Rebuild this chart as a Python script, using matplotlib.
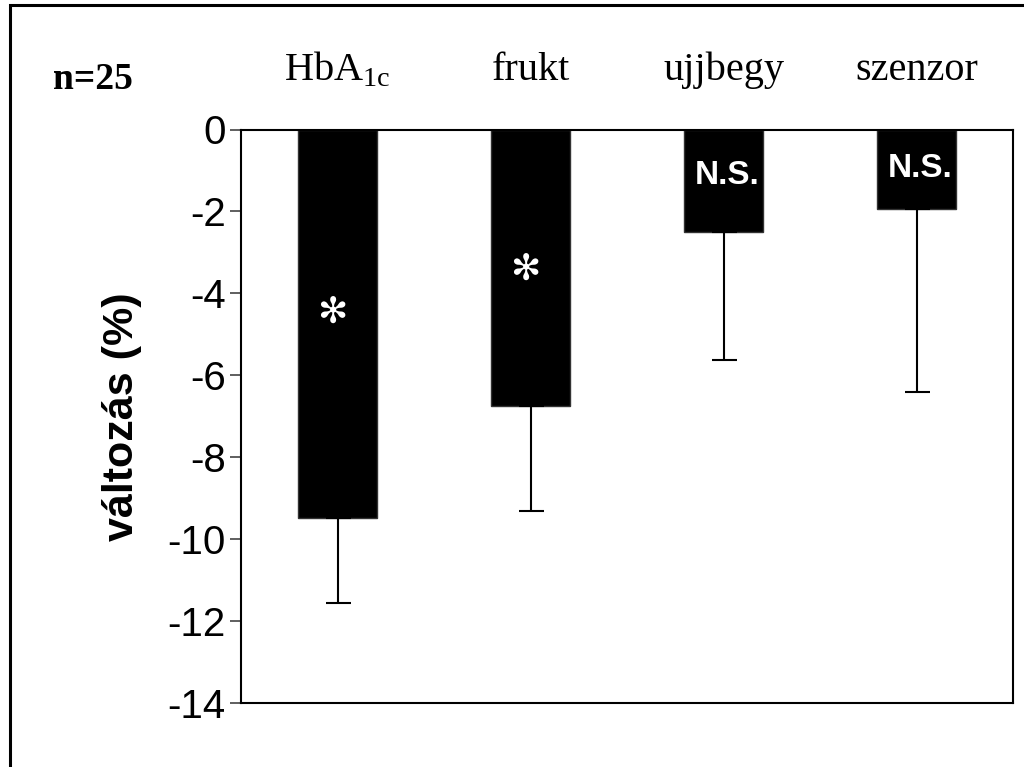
import matplotlib
matplotlib.use('Agg')
import matplotlib.pyplot as plt
from matplotlib.patches import Rectangle
import numpy as np

categories = ['HbA$_{\\mathrm{1c}}$', 'frukt', 'ujjbegy', 'szenzor']
means = [-9.48, -6.74, -2.50, -1.94]
err_low = [2.09, 2.58, 3.12, 4.46]
marks = ['*', '*', 'N.S.', 'N.S.']
mark_y = [-4.48, -3.43, -1.13, -0.94]
yticks = [0, -2, -4, -6, -8, -10, -12, -14]

plt.rcParams['mathtext.fontset'] = 'custom'
plt.rcParams['mathtext.rm'] = 'Liberation Serif'
plt.rcParams['font.family'] = 'Liberation Sans'

fig = plt.figure(figsize=(10.24, 7.67), dpi=100)
ax = fig.add_axes([241 / 1024, 1 - 703 / 767, 772 / 1024, (703 - 129.5) / 767])

x = np.arange(len(means)) + 0.5
ax.bar(x, means, width=0.41, color='black', edgecolor='#333333', linewidth=1,
       yerr=[err_low, [0] * len(means)], capsize=9,
       error_kw=dict(elinewidth=1.5, capthick=1.5, ecolor='black'))

for xi, m, yi in zip(x, marks, mark_y):
    if m == '*':
        # six-petal asterisk like the original
        ax.text(xi - 0.03, yi, '\u273B', family='DejaVu Sans', color='white',
                fontsize=26, ha='center', va='center')
    else:
        ax.text(xi + 0.02, yi, m, color='white', fontsize=24, fontweight='bold',
                ha='center', va='center')

ax.set_xlim(0, 4)
ax.set_ylim(-14, 0)
ax.set_yticks(yticks)
ax.set_yticklabels([str(t) for t in yticks])
ax.set_xticks([])
ax.tick_params(axis='y', direction='out', length=8, width=1.2, pad=3,
               labelsize=29, color='#444444')
for s in ax.spines.values():
    s.set_linewidth(1.5)
    s.set_color('black')

ax.set_ylabel('változás (%)', fontsize=31, fontweight='bold', labelpad=18)

for xi, c in zip(x, categories):
    fx = (241 + xi * 193) / 1024
    fig.text(fx, 1 - 80 / 767, c, family='Liberation Serif', fontsize=29,
             ha='center', va='baseline')

fig.text(53 / 1024, 1 - 89 / 767, 'n=25', family='Liberation Serif', fontsize=27,
         fontweight='bold', ha='left', va='baseline')

fig.add_artist(Rectangle((9.5 / 1024, -0.1), 1.2, 1.1 - 5.5 / 767,
                         transform=fig.transFigure, fill=False,
                         linewidth=2.2, edgecolor='black'))

fig.savefig('out.png', dpi=100)
plt.close(fig)
